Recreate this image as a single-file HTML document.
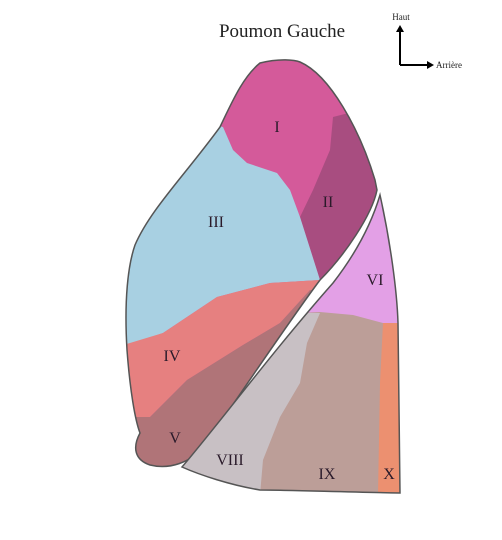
<!DOCTYPE html>
<html><head><meta charset="utf-8"><style>
html,body{margin:0;padding:0;background:#fff;}
svg{display:block;font-family:"Liberation Serif",serif;}
</style></head><body>
<svg width="502" height="540" viewBox="0 0 502 540">
<defs>
<clipPath id="cu"><path d="M260,63 C280,58 295,60 300,62 C330,75 360,130 375,180 L377,190 C372,215 345,255 320,280 C290,320 250,380 203,448 C190,462 170,470 150,465 C135,460 132,448 140,433 C135,420 130,390 127,350 C124,300 128,265 135,245 C150,210 185,175 220,127 C235,95 245,75 260,63 Z"/></clipPath>
<clipPath id="cl"><path d="M380,195 C390,240 397,290 398,323 L400,493 C340,492 290,490 260,490 C230,485 200,475 182,467 C222,420 272,352 333,283 C357,252 372,222 380,195 Z"/></clipPath>
</defs>
<text x="282" y="37" font-size="19" text-anchor="middle" fill="#222">Poumon Gauche</text>
<g>
<text x="401" y="20" font-size="9" text-anchor="middle" fill="#222">Haut</text>
<path d="M400,65 L400,30 M400,65 L428,65" stroke="#000" stroke-width="2" fill="none"/>
<path d="M396,32 L400,25 L404,32 Z M427,61 L434,65 L427,69 Z" fill="#000"/>
<text x="436" y="68" font-size="9" fill="#222">Arrière</text>
</g>
<g clip-path="url(#cu)">
<rect x="100" y="40" width="320" height="460" fill="#d45a9a"/>
<path d="M333,117 L400,100 L400,300 L320,280 L300,217 L313,190 L330,150 Z" fill="#a84d80"/>
<path d="M223,127 L233,150 L247,163 L277,173 L290,190 L300,217 L320,280 L270,283 L217,297 L163,333 L110,352 L100,100 Z" fill="#a8d0e2"/>
<path d="M100,352 L163,333 L217,297 L270,283 L320,280 L330,290 L310,290 L280,323 L243,345 L187,380 L150,417 L100,420 Z" fill="#e68080"/>
<path d="M100,417 L150,417 L187,380 L243,345 L280,323 L310,290 L340,290 L250,500 L100,500 Z" fill="#b07478"/>
</g>
<path d="M260,63 C280,58 295,60 300,62 C330,75 360,130 375,180 L377,190 C372,215 345,255 320,280 C290,320 250,380 203,448 C190,462 170,470 150,465 C135,460 132,448 140,433 C135,420 130,390 127,350 C124,300 128,265 135,245 C150,210 185,175 220,127 C235,95 245,75 260,63 Z" fill="none" stroke="#555" stroke-width="1.5"/>
<g clip-path="url(#cl)">
<rect x="170" y="180" width="240" height="320" fill="#bc9e98"/>
<path d="M320,313 L307,343 L300,383 L280,417 L263,460 L260,495 L170,495 L170,313 Z" fill="#c8c0c4"/>
<path d="M300,313 L320,312 L353,315 L383,323 L410,323 L410,180 L300,180 Z" fill="#e3a0e6"/>
<path d="M383,323 L380,383 L378,495 L410,495 L410,323 Z" fill="#ec9070"/>
</g>
<path d="M380,195 C390,240 397,290 398,323 L400,493 C340,492 290,490 260,490 C230,485 200,475 182,467 C222,420 272,352 333,283 C357,252 372,222 380,195 Z" fill="none" stroke="#555" stroke-width="1.5"/>
<g font-size="16" fill="#2a1a2a" text-anchor="middle">
<text x="277" y="132">I</text>
<text x="328" y="207">II</text>
<text x="216" y="227">III</text>
<text x="375" y="285">VI</text>
<text x="172" y="361">IV</text>
<text x="175" y="443">V</text>
<text x="230" y="465">VIII</text>
<text x="327" y="479">IX</text>
<text x="389" y="479">X</text>
</g>
</svg>
</body></html>
